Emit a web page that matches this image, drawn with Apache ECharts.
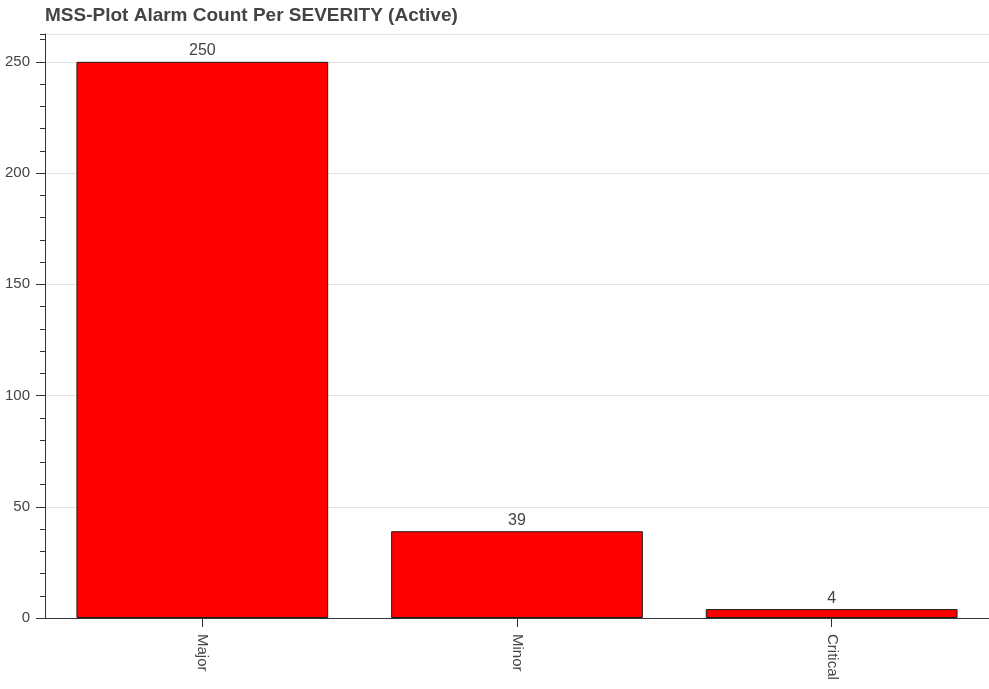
<!DOCTYPE html>
<html>
<head>
<meta charset="utf-8">
<script src="https://cdn.jsdelivr.net/npm/echarts@6/dist/echarts.min.js"></script>
<style>
html,body{margin:0;padding:0;background:#fff;}
#chart{width:989px;height:689px;}
</style>
</head>
<body>
<div id="chart"></div>
<script>
const titleText = 'MSS-Plot Alarm Count Per SEVERITY (Active)';
const categories = ['Major', 'Minor', 'Critical'];
const counts = [250, 39, 4];
const yMin = 0;
const yMax = 262.5;
const yMajorStep = 50;
const yMinorStep = 10;

const FONT = 'Arial, "Liberation Sans", Helvetica, sans-serif';
const chart = echarts.init(document.getElementById('chart'), null, {renderer: 'canvas'});
chart.setOption({
  backgroundColor: '#ffffff',
  animation: false,
  title: {
    text: titleText,
    left: 45,
    top: 6,
    padding: 0,
    textStyle: {fontFamily: FONT, fontSize: 19, fontWeight: 'bold', color: '#444444'}
  },
  grid: {left: 45, right: 0, top: 34, bottom: 71, containLabel: false},
  xAxis: {
    type: 'category',
    data: categories,
    axisLine: {show: true, lineStyle: {color: '#333333', width: 1}},
    axisTick: {show: true, alignWithLabel: true, length: 9, lineStyle: {color: '#333333'}},
    axisLabel: {rotate: -90, fontFamily: FONT, fontSize: 15, color: '#444444', margin: 16},
    splitLine: {show: false}
  },
  yAxis: [
    {
      type: 'value',
      min: yMin,
      max: yMax,
      interval: yMajorStep,
      axisLine: {show: true, lineStyle: {color: '#333333', width: 1}},
      axisTick: {show: true, length: 9, lineStyle: {color: '#333333'}},
      axisLabel: {fontFamily: FONT, fontSize: 15, color: '#444444', margin: 15, showMaxLabel: false},
      splitLine: {show: true, lineStyle: {color: '#e2e2e2', width: 1}}
    },
    {
      type: 'value',
      position: 'left',
      min: yMin,
      max: yMax,
      interval: yMinorStep,
      axisLine: {show: false},
      axisTick: {show: true, length: 5, lineStyle: {color: '#333333'}},
      axisLabel: {show: false},
      splitLine: {show: false}
    }
  ],
  series: [{
    type: 'bar',
    data: counts,
    yAxisIndex: 0,
    barWidth: '80%',
    itemStyle: {color: '#ff0000', borderColor: '#1a1a1a', borderWidth: 1},
    label: {show: true, position: 'top', distance: 3, fontFamily: FONT, fontSize: 16, color: '#444444'}
  }]
});
</script>
</body>
</html>
